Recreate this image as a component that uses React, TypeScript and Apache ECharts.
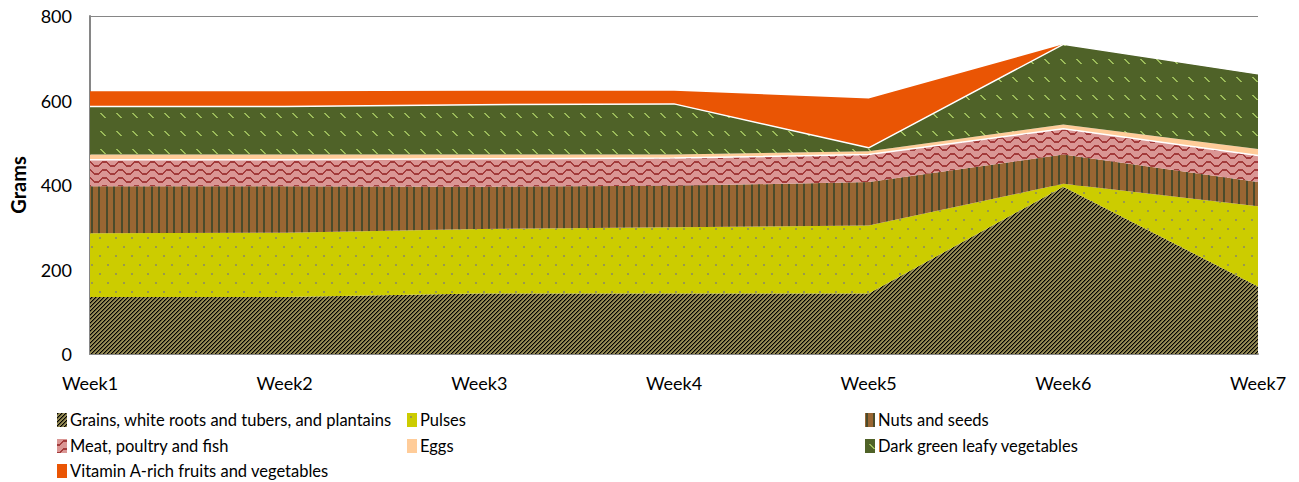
import React, { useEffect, useRef } from "react";
import * as echarts from "echarts";

const weeks = ["Week1", "Week2", "Week3", "Week4", "Week5", "Week6", "Week7"];
const seriesNames = [
  "Grains, white roots and tubers, and plantains",
  "Pulses",
  "Nuts and seeds",
  "Meat, poultry and fish",
  "Eggs",
  "Dark green leafy vegetables",
  "Vitamin A-rich fruits and vegetables",
];
const grains = [135, 135, 143, 143, 143, 396, 160];
const pulses = [151, 152, 153, 157, 161, 7, 190];
const nuts = [111, 110, 100, 98, 103, 69, 57];
const meat = [63, 63, 66, 66, 65, 61, 63];
const eggs = [12, 12, 10, 8, 8, 10, 15];
const darkGreen = [114, 114, 118, 120, 8, 190, 178];
const vitaminA = [36, 36, 33, 31, 117, 0, 0];
const yMin = 0;
const yMax = 800;
const yInterval = 200;

type Draw = (ctx: CanvasRenderingContext2D) => void;
function tile(w: number, h: number, bg: string, draw: Draw) {
  const c = document.createElement("canvas");
  c.width = w;
  c.height = h;
  const ctx = c.getContext("2d")!;
  ctx.fillStyle = bg;
  ctx.fillRect(0, 0, w, h);
  draw(ctx);
  return { image: c.toDataURL(), repeat: "repeat", imageWidth: w, imageHeight: h } as any;
}

function makePatterns() {
  const grainsP = tile(4, 4, "#948A54", (ctx) => {
    for (let y = 0; y < 4; y++)
      for (let x = 0; x < 4; x++) {
        const k = (x + y) % 4;
        if (k === 0) {
          ctx.fillStyle = "#000";
          ctx.fillRect(x, y, 1, 1);
        } else if (k === 1) {
          ctx.fillStyle = "#5A5434";
          ctx.fillRect(x, y, 1, 1);
        }
      }
  });
  const pulsesP = tile(16, 18, "#CCCC00", (ctx) => {
    ctx.fillStyle = "#99994D";
    ctx.fillRect(3, 3, 2, 2);
    ctx.fillRect(11, 12, 2, 2);
  });
  const nutsP = tile(15, 2, "#996633", (ctx) => {
    ctx.fillStyle = "#4B4B2B";
    ctx.fillRect(1, 0, 2, 2);
    ctx.fillRect(8, 0, 2, 2);
  });
  const meatP = tile(16, 8, "#DA9694", (ctx) => {
    ctx.fillStyle = "#A33B3B";
    const ys = [6, 6, 6, 5, 4, 3, 2, 2, 2, 2, 2, 3, 4, 5, 6, 6];
    ys.forEach((y, x) => ctx.fillRect(x, y - 1, 1, 2));
  });
  const eggsC = "#FFCC99";
  const dglP = tile(16, 18, "#4F6228", (ctx) => {
    ctx.fillStyle = "#9BBB59";
    for (let i = 0; i < 5; i++) ctx.fillRect(4 + i, 5 + i, 2, 1);
  });
  const vitC = "#EA5504";
  return [grainsP, pulsesP, nutsP, meatP, eggsC, dglP, vitC];
}

const solidColors = ["#948A54", "#CCCC00", "#996633", "#DA9694", "#FFCC99", "#4F6228", "#EA5504"];

export default function App() {
  const ref = useRef<HTMLDivElement>(null);
  useEffect(() => {
    if (!ref.current) return;
    const chart = echarts.init(ref.current, undefined, { renderer: "svg" });
    const fam = "Lato, sans-serif";
    const axisFs = 18;
    const legFs = 16.5;
    const patterns = makePatterns();
    const values = [grains, pulses, nuts, meat, eggs, darkGreen, vitaminA];
    const whiteTop = [false, false, false, true, false, true, false];
    const legendPos = [
      [57, 420], [407, 420], [865, 420],
      [57, 446], [407, 446], [865, 446],
      [57, 471],
    ];
    const option: any = {
      animation: false,
      grid: { left: 90, right: 41, top: 16, bottom: 128 },
      xAxis: {
        type: "category",
        data: weeks,
        boundaryGap: false,
        axisLine: { lineStyle: { color: "#868686", width: 2 } },
        axisTick: { show: false },
        axisLabel: { margin: 20, fontSize: axisFs, color: "#000", fontFamily: fam },
        splitLine: { show: false },
      },
      yAxis: {
        type: "value",
        min: yMin,
        max: yMax,
        interval: yInterval,
        name: "Grams",
        nameLocation: "middle",
        nameGap: 62,
        nameTextStyle: { fontSize: 20, fontWeight: "bold", color: "#000", fontFamily: fam },
        axisLine: { show: true, lineStyle: { color: "#868686", width: 2 } },
        axisTick: { show: false },
        axisLabel: { margin: 18, fontSize: axisFs, color: "#000", fontFamily: fam },
        splitLine: { show: true, lineStyle: { color: "#868686", width: 1 } },
      },
      legend: seriesNames.map((name, i) => ({
        left: legendPos[i][0],
        top: legendPos[i][1] - 10,
        padding: 0,
        itemWidth: 10,
        itemHeight: 14,
        itemGap: 0,
        icon: "rect",
        selectedMode: false,
        data: [{ name, itemStyle: { color: patterns[i] } }],
        textStyle: { fontFamily: fam, fontSize: legFs, color: "#000", lineHeight: 20, padding: [0, 0, 0, -2] },
      })),
      series: seriesNames.map((name, i) => ({
        name,
        type: "line",
        stack: "total",
        data: values[i],
        symbol: "none",
        showSymbol: false,
        itemStyle: { color: solidColors[i] },
        lineStyle: whiteTop[i] ? { color: "#FFFFFF", width: 1.5 } : { width: 0, opacity: 0 },
        areaStyle: { color: patterns[i], opacity: 1 },
        emphasis: { disabled: true },
      })),
    };
    chart.setOption(option);
    return () => chart.dispose();
  }, []);
  return (
    <div
      ref={ref}
      style={{ position: "fixed", left: 0, top: 0, width: 1299, height: 482, background: "#fff" }}
    />
  );
}
